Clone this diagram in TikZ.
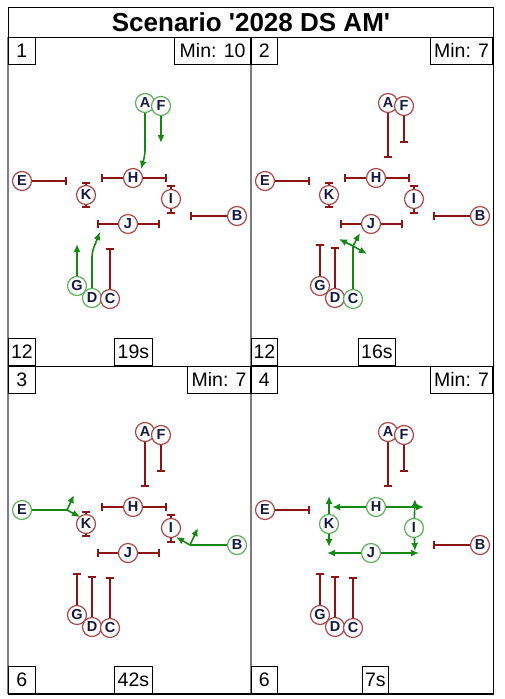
\documentclass[tikz,border=0pt]{standalone}
\usepackage{fontspec}
\setmainfont{Liberation Sans}[Ligatures=TeXOff]
\usetikzlibrary{arrows.meta, math}
\definecolor{sigbar}{RGB}{140,20,20}
\definecolor{sigring}{RGB}{165,75,75}
\definecolor{grnline}{RGB}{20,135,20}
\definecolor{grnring}{RGB}{95,175,95}
\definecolor{lettr}{RGB}{20,25,60}
\definecolor{edge}{RGB}{125,125,125}

\tikzset{
  jn/.style={circle, fill=white, line width=1.2pt, minimum size=19pt, inner sep=0pt,
    font=\fontsize{14.5}{15}\selectfont\bfseries, text=lettr},
  stopbar/.style={draw=sigbar, line width=1.6pt, -{Bar[width=8pt]}},
  goline/.style={draw=grnline, line width=1.6pt},
  gomove/.style={goline, -{Latex[length=8pt,width=7pt]}},
  infobox/.style={draw, line width=0.8pt, inner sep=0pt, minimum height=27pt,
    font=\fontsize{19.5}{20}\selectfont},
}
% ends of the stop bars, panel coordinates
\def\barends{Et/67/181, At/145/158, Ft/161/143, Kt/86/182, Kb/86/208, Hl/101/178, Hr/167/178,
  It/171/185, Ib/171/214, Bt/190/216, Jl/97/224, Jr/160/224, Gt/77/244, Dt/92/247, Ct/110/248}

\begin{document}
\begin{tikzpicture}[x=1pt, y=-1pt]
\tikzmath{
\dx=243;%panel width
\dy=329;%panel height
}
\useasboundingbox (0,0) rectangle (504,699);

% frame
\draw[line width=1pt] (8,7) rectangle (493,694);
\draw[line width=1pt] (8,37) -- (493,37);
\draw[line width=1pt] (8,366) -- (493,366);
\draw[edge, line width=1.2pt] (251,37) -- (251,694);
\draw[edge, line width=1.5pt] (8,37) -- (8,694);
\draw[line width=1.8pt] (8,694) -- (493,694);
\node[font=\fontsize{26}{26}\selectfont\bfseries] (title) at (251,22) {Scenario '2028 DS AM'};

% panel 1
\begin{scope}
\foreach \n/\x/\y/\c in {A/145/103/grnring, F/161/106/grnring, E/22/181/sigring, H/133/178/sigring,
  K/86/195/sigring, I/171/199/sigring, B/237/216/sigring, J/128/224/sigring,
  G/77/286/grnring, D/92/298/grnring, C/110/299/sigring}
  \node[jn, draw=\c] (p1\n) at (\x,\y) {\n};
\foreach \n/\x/\y in \barends
  \coordinate (p1\n) at (\x,\y);
\foreach \a/\b in {E/Et, K/Kt, K/Kb, H/Hl, H/Hr, I/It, I/Ib, B/Bt, J/Jl, J/Jr, C/Ct}
  \draw[stopbar] (p1\a) -- (p1\b);
\coordinate (p1Ab) at (145,155);
\coordinate (p1Aa) at (141,169);
\coordinate (p1Db) at (92,252);
\coordinate (p1Da) at (100,232);
\draw[gomove, rounded corners=5pt] (p1A) -- (p1Ab) -- (p1Aa);
\draw[gomove] (p1F) -- (p1Ft);
\draw[gomove] (p1G) -- (p1Gt);
\draw[gomove, rounded corners=5pt] (p1D) -- (p1Db) -- (p1Da);
\node[infobox, minimum width=27pt, anchor=north west] (p1num) at (8,37) {1};
\node[infobox, minimum width=76pt, anchor=north east] (p1min) at (251,37) {Min: 10};
\node[infobox, minimum width=27pt, anchor=south west] (p1cyc) at (8,366) {12};
\node[infobox, minimum width=38pt, anchor=south west] (p1sec) at (114,366) {19s};
\end{scope}

% panel 2
\begin{scope}[shift={(\dx,0)}]
\foreach \n/\x/\y/\c in {A/145/103/sigring, F/161/106/sigring, E/22/181/sigring, H/133/178/sigring,
  K/86/195/sigring, I/171/199/sigring, B/237/216/sigring, J/128/224/sigring,
  G/77/286/sigring, D/92/298/sigring, C/110/299/grnring}
  \node[jn, draw=\c] (p2\n) at (\x,\y) {\n};
\foreach \n/\x/\y in \barends
  \coordinate (p2\n) at (\x,\y);
\foreach \a/\b in {A/At, F/Ft, E/Et, K/Kt, K/Kb, H/Hl, H/Hr, I/It, I/Ib, B/Bt, J/Jl, J/Jr, G/Gt, D/Dt}
  \draw[stopbar] (p2\a) -- (p2\b);
\coordinate (p2Cj) at (110,246);
\coordinate (p2Cu) at (117,233);
\coordinate (p2Cl) at (96,239);
\coordinate (p2Cr) at (124,254);
\draw[goline] (p2C) -- (p2Cj);
\draw[gomove] (p2Cj) -- (p2Cu);
\draw[gomove] (p2Cj) -- (p2Cl);
\draw[gomove] (p2Cj) -- (p2Cr);
\node[infobox, minimum width=26pt, anchor=north west] (p2num) at (8,37) {2};
\node[infobox, minimum width=62pt, anchor=north east] (p2min) at (250,37) {Min: 7};
\node[infobox, minimum width=26pt, anchor=south west] (p2cyc) at (8,366) {12};
\node[infobox, minimum width=37pt, anchor=south west] (p2sec) at (115,366) {16s};
\end{scope}

% panel 3
\begin{scope}[shift={(0,\dy)}]
\foreach \n/\x/\y/\c in {A/145/103/sigring, F/161/106/sigring, E/22/181/grnring, H/133/178/sigring,
  K/86/195/sigring, I/171/199/sigring, B/237/216/grnring, J/128/224/sigring,
  G/77/286/sigring, D/92/298/sigring, C/110/299/sigring}
  \node[jn, draw=\c] (p3\n) at (\x,\y) {\n};
\foreach \n/\x/\y in \barends
  \coordinate (p3\n) at (\x,\y);
\foreach \a/\b in {A/At, F/Ft, K/Kt, K/Kb, H/Hl, H/Hr, I/It, I/Ib, J/Jl, J/Jr, G/Gt, D/Dt, C/Ct}
  \draw[stopbar] (p3\a) -- (p3\b);
\coordinate (p3Ej) at (67,181);
\coordinate (p3Eu) at (74,166);
\coordinate (p3Ek) at (80,188);
\coordinate (p3Bj) at (190,216);
\coordinate (p3Bi) at (176,208);
\coordinate (p3Bu) at (198,199);
\draw[goline] (p3E) -- (p3Ej);
\draw[gomove] (p3Ej) -- (p3Eu);
\draw[gomove] (p3Ej) -- (p3Ek);
\draw[goline] (p3B) -- (p3Bj);
\draw[gomove] (p3Bj) -- (p3Bi);
\draw[gomove] (p3Bj) -- (p3Bu);
\node[infobox, minimum width=27pt, anchor=north west] (p3num) at (8,37) {3};
\node[infobox, minimum width=63pt, anchor=north east] (p3min) at (251,37) {Min: 7};
\node[infobox, minimum width=27pt, anchor=south west] (p3cyc) at (8,365) {6};
\node[infobox, minimum width=38pt, anchor=south west] (p3sec) at (114,365) {42s};
\end{scope}

% panel 4
\begin{scope}[shift={(\dx,\dy)}]
\foreach \n/\x/\y/\c in {A/145/103/sigring, F/161/106/sigring, E/22/181/sigring, H/133/178/grnring,
  K/86/195/grnring, I/171/199/grnring, B/237/216/sigring, J/128/224/grnring,
  G/77/286/sigring, D/92/298/sigring, C/110/299/sigring}
  \node[jn, draw=\c] (p4\n) at (\x,\y) {\n};
\foreach \n/\x/\y in \barends
  \coordinate (p4\n) at (\x,\y);
\foreach \a/\b in {A/At, F/Ft, E/Et, B/Bt, G/Gt, D/Dt, C/Ct}
  \draw[stopbar] (p4\a) -- (p4\b);
\foreach \a/\b/\x/\y in {H/Hw/89/178, H/He/181/178, K/Kn/86/167, K/Ks/86/218,
  I/In/172/170, I/Is/172/222, J/Jw/84/224, J/Je/176/224}
  {
  \coordinate (p4\b) at (\x,\y);
  \draw[gomove] (p4\a) -- (p4\b);
  }
\node[infobox, minimum width=26pt, anchor=north west] (p4num) at (8,37) {4};
\node[infobox, minimum width=62pt, anchor=north east] (p4min) at (250,37) {Min: 7};
\node[infobox, minimum width=26pt, anchor=south west] (p4cyc) at (8,365) {6};
\node[infobox, minimum width=26pt, anchor=south west] (p4sec) at (119,365) {7s};
\end{scope}

\end{tikzpicture}
\end{document}
